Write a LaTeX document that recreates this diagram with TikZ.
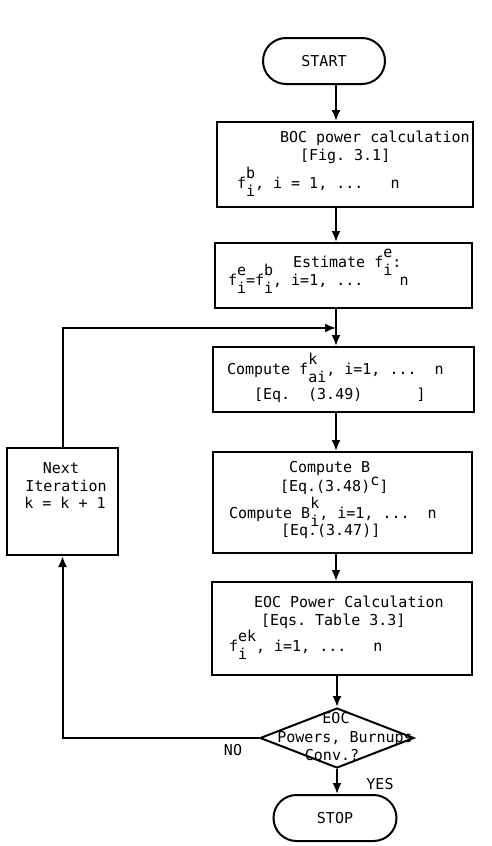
\documentclass[tikz,border=0pt]{standalone}
\usepackage{fontspec}
\setmonofont{DejaVu Sans Mono}
\usetikzlibrary{arrows.meta,shapes.geometric,positioning}

% typed letter with raised and lowered index
\newcommand{\fsc}[3]{#1\setbox1\hbox{\raisebox{0.62em}{#2}}\setbox2\hbox{\raisebox{-0.55em}{#3}}\ifdim\wd1>\wd2\relax\rlap{\box2}\box1\else\rlap{\box1}\box2\fi}

\begin{document}
\begin{tikzpicture}[x=1pt,y=-1pt,line width=2pt,
    font=\ttfamily\fontsize{15}{18}\selectfont,
    arr/.style={-{Latex[length=11pt,width=9pt]}}]

      \useasboundingbox (0,0) rectangle (491,846);

      \begin{scope}[every node/.style={draw,inner sep=0pt}]
        \node[rounded corners=23pt,minimum width=122pt,minimum height=46pt] (start) at (324,61) {START};
        \node[minimum width=256pt,minimum height=85pt]  (boc)  at (345,164.5) {};
        \node[minimum width=257pt,minimum height=65pt]  (est)  at (343.5,275.5) {};
        \node[minimum width=261pt,minimum height=65pt]  (comp) at (343.5,379.5) {};
        \node[minimum width=259pt,minimum height=101pt] (burn) at (342.5,502.5) {};
        \node[minimum width=260pt,minimum height=93pt]  (eoc)  at (342,628.5) {};
        \node[diamond,minimum width=154pt,minimum height=60pt] (conv) at (337,738) {};
        \node[rounded corners=23pt,minimum width=123pt,minimum height=46pt] (stop) at (335,818) {STOP};
        \node[minimum width=111pt,minimum height=107pt] (next) at (62.5,501.5) {};
      \end{scope}

      \coordinate (spine) at (336,0);
      \coordinate (loop)  at (336,328);

      % box texts
      \begin{scope}[every node/.style={anchor=base west,inner sep=0pt}]
        \node (t1a) at (279,142) {BOC power calculation};
        \node (t1b) at (299,160) {[Fig. 3.1]};
        \node (t1c) at (236,188) {\fsc{f}{b}{i}, i = 1, ...\ \ \ n};
        \node (t2a) at (292,267) {Estimate \fsc{f}{e}{i}:};
        \node (t2b) at (227,285) {\fsc{f}{e}{i}=\fsc{f}{b}{i}, i=1, ...\ \ \ \ n};
        \node (t3a) at (226,374) {Compute \fsc{f}{k}{ai}, i=1, ...\ \ n};
        \node (t3b) at (253,399) {[Eq.\ \ (3.49)\ \ \ \ \ \ ]};
        \node (t4a) at (288,472) {Compute B};
        \node (t4b) at (279,491) {[Eq.(3.48)\raisebox{0.35em}{c}]};
        \node (t4c) at (228,518) {Compute \fsc{B}{k}{i}, i=1, ...\ \ n};
        \node (t4d) at (280,535) {[Eq.(3.47)]};
        \node (t5a) at (253,607) {EOC Power Calculation};
        \node (t5b) at (260,625) {[Eqs. Table 3.3]};
        \node (t5c) at (228,651) {\fsc{f}{ek}{i}, i=1, ...\ \ \ n};
      \end{scope}

      \begin{scope}[every node/.style={anchor=base,inner sep=0pt}]
        \node (d1) at (336,723) {EOC};
        \node (d2) at (345,742) {Powers, Burnups};
        \node (d3) at (332,760) {Conv.?};
        \node (n1) at (61,473) {Next};
        \node (n2) at (66,491) {Iteration};
        \node (n3) at (65,508) {k = k + 1};
        \node (no)  at (233,755) {NO};
        \node (yes) at (380,789) {YES};
      \end{scope}

      \draw[arr] (start.south -| spine) -- (boc.north -| spine);
      \draw[arr] (boc.south -| spine) -- (est.north -| spine);
      \draw[arr] (est.south -| spine) -- (comp.north -| spine);
      \draw[arr] (comp.south -| spine) -- (burn.north -| spine);
      \draw[arr] (burn.south -| spine) -- (eoc.north -| spine);
      \draw[arr] (eoc.south -| conv.north) -- (conv.north);
      \draw[arr] (conv.south) -- (conv.south |- stop.north);
      \draw[arr] (conv.west) -| (next.south);
      \draw[arr] (next.north) |- (loop);

    \end{tikzpicture}
\end{document}
